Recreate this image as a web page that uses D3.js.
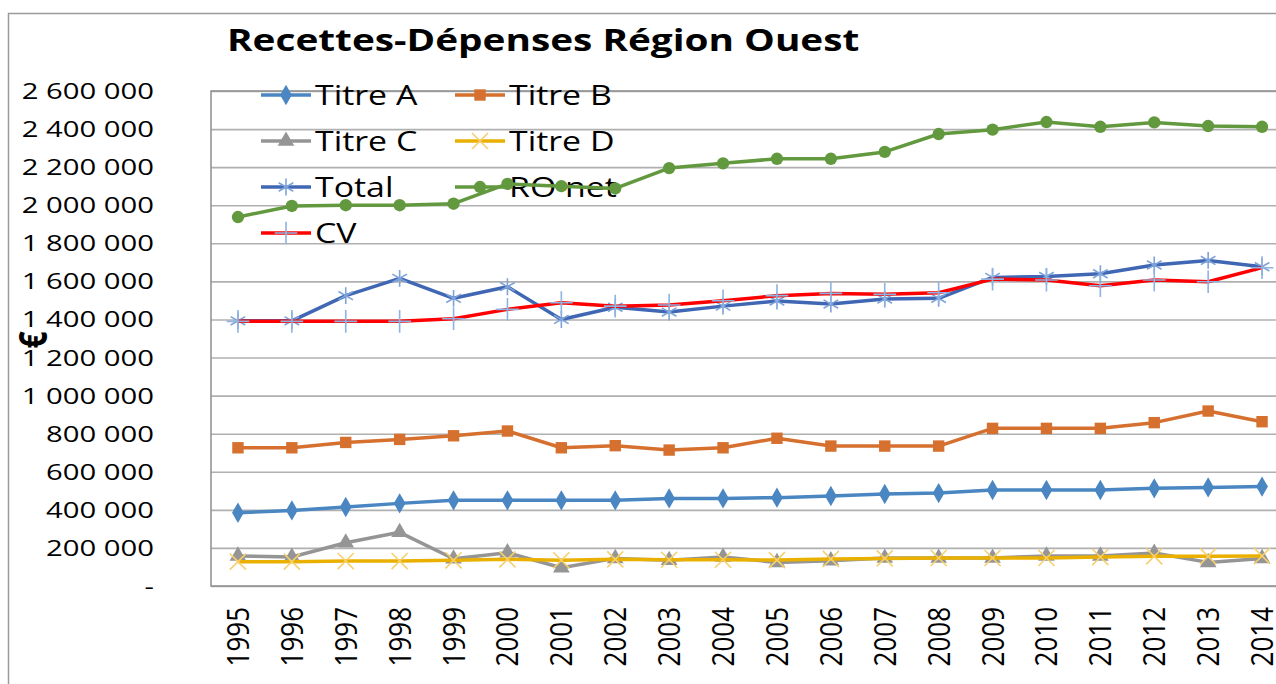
<html>
<head>
<meta charset="utf-8">
<script src="https://cdn.jsdelivr.net/npm/d3@7"></script>
<style>
body{margin:0;padding:0;background:white;}
text{font-family:"Open Sans",sans-serif;}
</style>
</head>
<body>
<div id="chart"></div>
<script>
// data
var years = ["1995","1996","1997","1998","1999","2000","2001","2002","2003","2004","2005","2006","2007","2008","2009","2010","2011","2012","2013","2014"];
var titreA = [385000,397000,415000,434000,450000,450000,450000,450000,460000,460000,464000,473000,483000,488000,504000,504000,504000,513000,518000,522000];
var titreB = [726000,726000,754000,770000,789000,814000,726000,737000,714000,726000,776000,735000,735000,735000,828000,828000,828000,858000,919000,863000];
var titreC = [158000,152000,227000,282000,143000,175000,96000,145000,135000,152000,124000,133000,147000,147000,147000,158000,158000,173000,124000,145000];
var titreD = [128000,128000,131000,131000,135000,140000,135000,140000,138000,138000,136000,142000,145000,147000,147000,147000,152000,156000,156000,158000];
var total = [1393000,1393000,1525000,1616000,1511000,1572000,1400000,1464000,1439000,1470000,1497000,1481000,1507000,1511000,1621000,1626000,1640000,1686000,1710000,1677000];
var roNet = [1938000,1996000,2000000,2000000,2008000,2112000,2100000,2088000,2195000,2220000,2244000,2244000,2280000,2374000,2397000,2437000,2412000,2435000,2416000,2412000];
var cv = [1390000,1390000,1390000,1390000,1404000,1453000,1488000,1470000,1476000,1498000,1525000,1537000,1532000,1540000,1612000,1607000,1577000,1607000,1598000,1672000];
var yTicks = [0,200000,400000,600000,800000,1000000,1200000,1400000,1600000,1800000,2000000,2200000,2400000,2600000];

var series = [
 {name:"Titre A", values:titreA, color:"#4A86C2", mark:"#4A86C2", symbol:d3.symbolDiamond, size:120, stroke:false},
 {name:"Titre B", values:titreB, color:"#D6702F", mark:"#D6702F", symbol:d3.symbolSquare, size:130, stroke:false},
 {name:"Titre C", values:titreC, color:"#959595", mark:"#959595", symbol:d3.symbolTriangle, size:120, stroke:false},
 {name:"Titre D", values:titreD, color:"#EAB000", mark:"#F6CF6E", symbol:d3.symbolTimes, size:170, stroke:true},
 {name:"Total", values:total, color:"#4067B4", mark:"#7EA3DA", symbol:d3.symbolAsterisk, size:200, stroke:true},
 {name:"RO net", values:roNet, color:"#62993E", mark:"#62993E", symbol:d3.symbolCircle, size:120, stroke:false},
 {name:"CV", values:cv, color:"#FF0000", mark:"#8DB3E2", symbol:d3.symbolPlus, size:170, stroke:true}
];

var svg = d3.select("#chart")
 .append("svg")
 .attr("width", 1276)
 .attr("height", 684)
 .style("display","block");

// outer chart frame
svg.append("rect")
 .attr("x", 8.5).attr("y", 13.5)
 .attr("width", 1300).attr("height", 700)
 .attr("fill","none")
 .attr("stroke","#9A9A9A")
 .attr("stroke-width", 1.5);

var x = d3.scalePoint()
 .domain(years)
 .range([211, 1289])
 .padding(0.5);

var y = d3.scaleLinear()
 .domain([0, 2600000])
 .range([586, 91]);

var fr = d3.formatLocale({decimal:",", thousands:" ", grouping:[3], currency:["","€"]});
var fmt = fr.format(",");

// gridlines
svg.append("g")
 .attr("transform","translate(211,0)")
 .call(d3.axisLeft(y).tickValues(yTicks).tickSize(-1100).tickFormat(""))
 .call(function(g){ g.select(".domain").remove(); })
 .selectAll("line")
 .attr("stroke","#B0B0B0")
 .attr("stroke-width",1.6);

// plot border
svg.append("rect")
 .attr("x", 211).attr("y", 91)
 .attr("width", 1100).attr("height", 495)
 .attr("fill","none")
 .attr("stroke","#8E8E8E")
 .attr("stroke-width", 1.5);

// y axis labels
var yAxis = svg.append("g")
 .attr("transform","translate(211,0)")
 .call(d3.axisLeft(y).tickValues(yTicks).tickSize(0).tickFormat(function(d){ return d == 0 ? "-" : fmt(d); }));
yAxis.select(".domain").remove();
yAxis.selectAll("text")
 .attr("x", null).attr("dy", null)
 .attr("font-family","Open Sans")
 .attr("font-size", 22)
 .attr("fill","#000")
 .attr("text-anchor","end")
 .attr("transform", function(d){ return "translate(-57," + (y(d) + 8) + ") scale(1.33,1)"; });
yAxis.selectAll(".tick").attr("transform", null);

// x axis labels
var xAxis = svg.append("g")
 .attr("transform","translate(0,586)")
 .call(d3.axisBottom(x).tickSize(0));
xAxis.select(".domain").remove();
xAxis.selectAll(".tick").attr("transform", null);
xAxis.selectAll("text")
 .attr("y", null).attr("dy", null)
 .attr("font-family","Open Sans")
 .attr("font-size", 26)
 .attr("fill","#000")
 .attr("text-anchor","end")
 .attr("transform", function(d){ return "translate(" + (x(d) + 11) + ",21) scale(1.22,1) rotate(-90)"; });

// y axis title
svg.append("text")
 .attr("transform","translate(47,340) scale(1.3,1) rotate(-90)")
 .attr("text-anchor","middle")
 .attr("font-weight","bold")
 .attr("font-size", 30)
 .text("€");

// title
svg.append("text")
 .attr("transform","translate(227,51) scale(1.25,1)")
 .attr("font-weight","bold")
 .attr("font-size", 31)
 .attr("fill","#000")
 .text("Recettes-Dépenses Région Ouest");

var line = d3.line()
 .x(function(d,i){ return x(years[i]); })
 .y(function(d){ return y(d); });

// legend (drawn under the series, like the source)
var legPos = [[261,95],[455,95],[261,141],[455,141],[261,187],[455,187],[261,233]];
var leg = svg.selectAll("g.leg")
 .data(series)
 .enter()
 .append("g")
 .attr("class","leg")
 .attr("transform", function(d,i){ return "translate(" + legPos[i][0] + "," + legPos[i][1] + ")"; });
leg.append("line")
 .attr("x1",0).attr("x2",50).attr("y1",0).attr("y2",0)
 .attr("stroke", function(d){ return d.color; })
 .attr("stroke-width",3.5);
leg.append("path")
 .attr("transform","translate(25,0)")
 .attr("d", function(d){ return d3.symbol().type(d.symbol).size(d.size)(); })
 .attr("fill", function(d){ return d.stroke ? "none" : d.mark; })
 .attr("stroke", function(d){ return d.stroke ? d.mark : "none"; })
 .attr("stroke-width", 1.6);
leg.append("text")
 .attr("transform","translate(54,10) scale(1.21,1)")
 .attr("font-size", 28)
 .attr("fill","#000")
 .text(function(d){ return d.name; });

// series
var sg = svg.selectAll("g.series")
 .data(series)
 .enter()
 .append("g")
 .attr("class","series");

sg.append("path")
 .attr("d", function(d){ return line(d.values); })
 .attr("fill","none")
 .attr("stroke", function(d){ return d.color; })
 .attr("stroke-width", 3.5)
 .attr("stroke-linejoin","round");

sg.each(function(s){
 d3.select(this).selectAll("path.mk")
  .data(s.values)
  .enter()
  .append("path")
  .attr("class","mk")
  .attr("transform", function(d,i){ return "translate(" + x(years[i]) + "," + y(d) + ")"; })
  .attr("d", d3.symbol().type(s.symbol).size(s.size)())
  .attr("fill", s.stroke ? "none" : s.mark)
  .attr("stroke", s.stroke ? s.mark : "none")
  .attr("stroke-width", 1.6);
});
</script>
</body>
</html>
